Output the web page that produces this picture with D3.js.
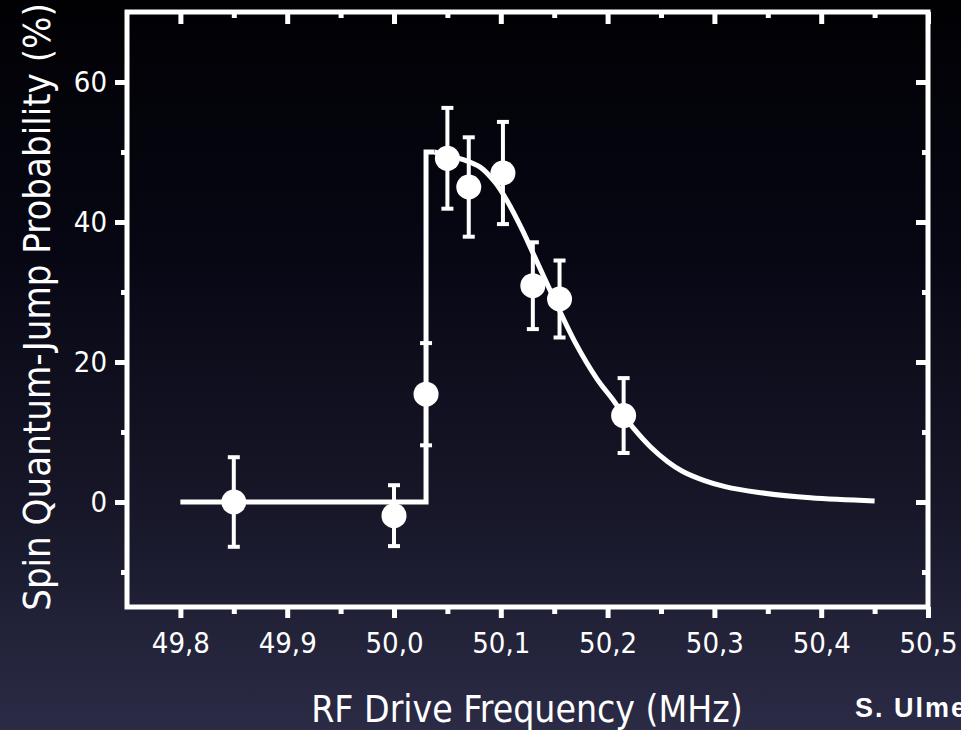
<!DOCTYPE html>
<html>
<head>
<meta charset="utf-8">
<script src="https://cdn.jsdelivr.net/npm/d3@7"></script>
<style>
  html, body { margin: 0; padding: 0; background: #000; }
  svg { display: block; }
</style>
</head>
<body>
<script>
// Measured spin-flip probability vs. RF drive frequency
const freq = [49.85, 50.00, 50.03, 50.05, 50.07, 50.102, 50.13, 50.155, 50.215];
const prob = [0.0, -1.95, 15.4, 49.1, 45.0, 47.0, 30.9, 29.0, 12.35];
const err  = [6.4, 4.35, 7.3, 7.2, 7.1, 7.3, 6.2, 5.5, 5.35];

// Fitted line shape: flat baseline, sharp edge, then the decaying tail
const stepFreq = [49.80, 50.03, 50.03, 50.038];
const stepProb = [0, 0, 50, 50];
const tailFreq = [50.038, 50.05, 50.065, 50.081, 50.095, 50.106, 50.12, 50.13, 50.146, 50.17, 50.19, 50.205, 50.215, 50.225, 50.24, 50.256, 50.27, 50.29, 50.31, 50.34, 50.39, 50.45];
const tailProb = [50, 49.5, 48.9, 47.8, 45.6, 43.0, 38.9, 35.6, 30.3, 22.7, 17.6, 14.6, 12.4, 10.4, 7.9, 5.8, 4.4, 3.1, 2.2, 1.4, 0.6, 0.15];

// Axis ticks
const xMajor = [49.8, 49.9, 50.0, 50.1, 50.2, 50.3, 50.4, 50.5];
const xMinor = [49.85, 49.95, 50.05, 50.15, 50.25, 50.35, 50.45];
const xLabels = ["49,8", "49,9", "50,0", "50,1", "50,2", "50,3", "50,4", "50,5"];
const yMajor = [0, 20, 40, 60];
const yMinor = [-10, 10, 30, 50];

const W = 961, H = 730;
const L = 127, R = 928, T = 12, B = 607;

const svg = d3.select("body").append("svg").attr("width", W).attr("height", H);

const defs = svg.append("defs");
const bg = defs.append("linearGradient").attr("id", "bg")
  .attr("x1", 0).attr("y1", 0).attr("x2", 0).attr("y2", 1);
bg.append("stop").attr("offset", "0%").attr("stop-color", "#010104");
bg.append("stop").attr("offset", "35%").attr("stop-color", "#070714");
bg.append("stop").attr("offset", "70%").attr("stop-color", "#171729");
bg.append("stop").attr("offset", "100%").attr("stop-color", "#2b2b46");
svg.append("rect").attr("width", W).attr("height", H).attr("fill", "url(#bg)");

const x = d3.scaleLinear().domain([49.75, 50.5]).range([L, R]);
const y = d3.scaleLinear().domain([-15, 70]).range([B, T]);

const fontMain = "'DejaVu Sans Condensed', 'Open Sans', 'DejaVu Sans', sans-serif";

function styleTicks(g) {
  g.select(".domain").remove();
  g.selectAll(".tick line").attr("stroke", "#fff").attr("stroke-width", 5);
}

// Bottom axis: outward ticks and labels
const gB = svg.append("g").attr("transform", `translate(0,${B})`);
gB.call(d3.axisBottom(x).tickValues(xMajor).tickSize(11).tickPadding(14)
  .tickFormat((d, i) => xLabels[i]));
styleTicks(gB);
gB.selectAll(".tick text").attr("fill", "#fff").attr("font-size", 29)
  .attr("font-family", fontMain).attr("dy", "0.71em");
const gBm = svg.append("g").attr("transform", `translate(0,${B})`);
gBm.call(d3.axisBottom(x).tickValues(xMinor).tickSize(7).tickFormat(""));
styleTicks(gBm);

// Top axis: inward ticks
const gT = svg.append("g").attr("transform", `translate(0,${T})`);
gT.call(d3.axisTop(x).tickValues(xMajor).tickSize(-12).tickFormat(""));
styleTicks(gT);
const gTm = svg.append("g").attr("transform", `translate(0,${T})`);
gTm.call(d3.axisTop(x).tickValues(xMinor).tickSize(-6).tickFormat(""));
styleTicks(gTm);

// Left axis: outward ticks and labels
const gL = svg.append("g").attr("transform", `translate(${L},0)`);
gL.call(d3.axisLeft(y).tickValues(yMajor).tickSize(12).tickPadding(8));
styleTicks(gL);
gL.selectAll(".tick text").attr("fill", "#fff").attr("font-size", 29)
  .attr("font-family", fontMain);
const gLm = svg.append("g").attr("transform", `translate(${L},0)`);
gLm.call(d3.axisLeft(y).tickValues(yMinor).tickSize(6).tickFormat(""));
styleTicks(gLm);

// Right axis: inward ticks
const gR = svg.append("g").attr("transform", `translate(${R},0)`);
gR.call(d3.axisRight(y).tickValues(yMajor).tickSize(-12).tickFormat(""));
styleTicks(gR);
const gRm = svg.append("g").attr("transform", `translate(${R},0)`);
gRm.call(d3.axisRight(y).tickValues(yMinor).tickSize(-6).tickFormat(""));
styleTicks(gRm);

// Frame
svg.append("rect").attr("x", L).attr("y", T).attr("width", R - L).attr("height", B - T)
  .attr("fill", "none").attr("stroke", "#fff").attr("stroke-width", 5);

// Fit curve
const stepLine = d3.line().x((d, i) => x(stepFreq[i])).y((d, i) => y(stepProb[i]));
svg.append("path").attr("d", stepLine(stepFreq))
  .attr("fill", "none").attr("stroke", "#fff").attr("stroke-width", 5)
  .attr("stroke-linejoin", "miter");
const tailLine = d3.line().curve(d3.curveCatmullRom.alpha(0.5))
  .x((d, i) => x(tailFreq[i])).y((d, i) => y(tailProb[i]));
svg.append("path").attr("d", tailLine(tailFreq))
  .attr("fill", "none").attr("stroke", "#fff").attr("stroke-width", 5)
  .attr("stroke-linecap", "butt");

// Error bars and points
const pts = freq.map((f, i) => ({ f, p: prob[i], e: err[i] }));
const eb = svg.append("g").attr("stroke", "#fff");
eb.selectAll("line.v").data(pts).join("line").attr("class", "v")
  .attr("x1", d => x(d.f)).attr("x2", d => x(d.f))
  .attr("y1", d => y(d.p + d.e)).attr("y2", d => y(d.p - d.e))
  .attr("stroke-width", 4);
eb.selectAll("line.ct").data(pts).join("line").attr("class", "ct")
  .attr("x1", d => x(d.f) - 6).attr("x2", d => x(d.f) + 6)
  .attr("y1", d => y(d.p + d.e)).attr("y2", d => y(d.p + d.e))
  .attr("stroke-width", 4);
eb.selectAll("line.cb").data(pts).join("line").attr("class", "cb")
  .attr("x1", d => x(d.f) - 6).attr("x2", d => x(d.f) + 6)
  .attr("y1", d => y(d.p - d.e)).attr("y2", d => y(d.p - d.e))
  .attr("stroke-width", 4);
svg.append("g").selectAll("circle").data(pts).join("circle")
  .attr("cx", d => x(d.f)).attr("cy", d => y(d.p)).attr("r", 12.5)
  .attr("fill", "#fff");

// Axis titles
svg.append("text").attr("x", 527).attr("y", 722).attr("text-anchor", "middle")
  .attr("fill", "#fff").attr("font-family", fontMain).attr("font-size", 37)
  .text("RF Drive Frequency (MHz)");
svg.append("text").attr("transform", "translate(50,307) rotate(-90)")
  .attr("text-anchor", "middle")
  .attr("fill", "#fff").attr("font-family", fontMain).attr("font-size", 38)
  .text("Spin Quantum-Jump Probability (%)");

// Credit
svg.append("text").attr("x", 855).attr("y", 717)
  .attr("fill", "#fff").attr("font-family", "'Liberation Sans', Arial, sans-serif")
  .attr("font-weight", "bold").attr("font-size", 27).attr("letter-spacing", 2)
  .text("S. Ulmer");
</script>
</body>
</html>
